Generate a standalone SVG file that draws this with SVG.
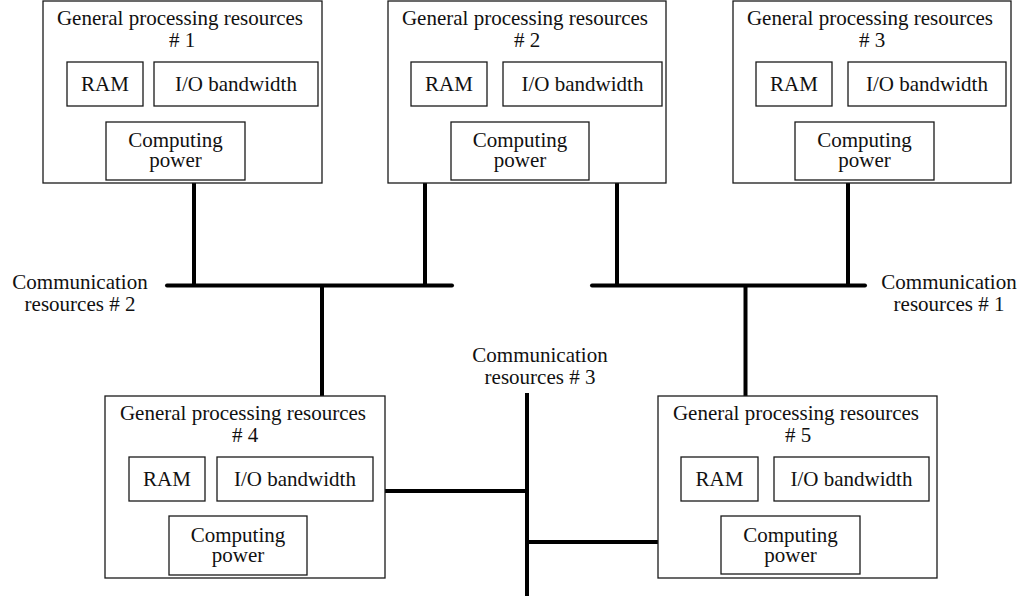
<svg xmlns="http://www.w3.org/2000/svg" width="1021" height="597" viewBox="0 0 1021 597">
  <style>
    .box { fill: #fff; stroke: #1a1a1a; stroke-width: 1.3; }
    .t { font-family: "Liberation Serif", "Times New Roman", serif; font-size: 21px; fill: #111; text-anchor: middle; }
    .bus { stroke: #000; stroke-width: 4; fill: none; stroke-linecap: round; }
    .tap { stroke: #000; stroke-width: 4; fill: none; stroke-linecap: butt; }
  </style>
  <rect width="1021" height="597" fill="#fff"/>

  <!-- connectors: buses and taps -->
  <g id="connectors">
    <!-- communication resources #2 -->
    <line class="bus" x1="167" y1="285.5" x2="452" y2="285.5"/>
    <line class="tap" x1="194" y1="183" x2="194" y2="285.5"/>
    <line class="tap" x1="425" y1="183" x2="425" y2="285.5"/>
    <line class="tap" x1="322" y1="285.5" x2="322" y2="396"/>
    <!-- communication resources #1 -->
    <line class="bus" x1="592" y1="285.5" x2="865" y2="285.5"/>
    <line class="tap" x1="617" y1="183" x2="617" y2="285.5"/>
    <line class="tap" x1="848" y1="183" x2="848" y2="285.5"/>
    <line class="tap" x1="745.5" y1="285.5" x2="745.5" y2="396"/>
    <!-- communication resources #3 -->
    <line class="tap" x1="527" y1="393" x2="527" y2="596"/>
    <line class="tap" x1="385" y1="491" x2="527" y2="491"/>
    <line class="tap" x1="527" y1="542" x2="658" y2="542"/>
  </g>

  <g id="bus-labels">
    <text class="t" x="80" y="289">Communication</text>
    <text class="t" x="80" y="311">resources # 2</text>
    <text class="t" x="949" y="289">Communication</text>
    <text class="t" x="949" y="311">resources # 1</text>
    <text class="t" x="540" y="362">Communication</text>
    <text class="t" x="540" y="384">resources # 3</text>
  </g>

  <g id="gpr1">
    <rect class="box" x="43" y="1" width="279" height="182"/>
    <text class="t" x="180" y="25">General processing resources</text>
    <text class="t" x="182" y="47"># 1</text>
    <rect class="box" x="67" y="62" width="76" height="44"/>
    <text class="t" x="105" y="91">RAM</text>
    <rect class="box" x="154" y="62" width="164" height="44"/>
    <text class="t" x="236" y="91">I/O bandwidth</text>
    <rect class="box" x="106" y="122" width="139" height="58"/>
    <text class="t" x="175.5" y="147">Computing</text>
    <text class="t" x="175.5" y="167">power</text>
  </g>

  <g id="gpr2">
    <rect class="box" x="388" y="1" width="278" height="182"/>
    <text class="t" x="525" y="25">General processing resources</text>
    <text class="t" x="527" y="47"># 2</text>
    <rect class="box" x="411" y="62" width="76" height="44"/>
    <text class="t" x="449" y="91">RAM</text>
    <rect class="box" x="503" y="62" width="159" height="44"/>
    <text class="t" x="582.5" y="91">I/O bandwidth</text>
    <rect class="box" x="451" y="122" width="138" height="58"/>
    <text class="t" x="520" y="147">Computing</text>
    <text class="t" x="520" y="167">power</text>
  </g>

  <g id="gpr3">
    <rect class="box" x="733" y="1" width="278" height="182"/>
    <text class="t" x="870" y="25">General processing resources</text>
    <text class="t" x="872" y="47"># 3</text>
    <rect class="box" x="756" y="62" width="76" height="44"/>
    <text class="t" x="794" y="91">RAM</text>
    <rect class="box" x="848" y="62" width="158" height="44"/>
    <text class="t" x="927" y="91">I/O bandwidth</text>
    <rect class="box" x="795" y="122" width="139" height="58"/>
    <text class="t" x="864.5" y="147">Computing</text>
    <text class="t" x="864.5" y="167">power</text>
  </g>

  <g id="gpr4">
    <rect class="box" x="105" y="396" width="280" height="182"/>
    <text class="t" x="243" y="420">General processing resources</text>
    <text class="t" x="245" y="442"># 4</text>
    <rect class="box" x="129" y="457" width="76" height="44"/>
    <text class="t" x="167" y="486">RAM</text>
    <rect class="box" x="217" y="457" width="156" height="44"/>
    <text class="t" x="295" y="486">I/O bandwidth</text>
    <rect class="box" x="169" y="516" width="138" height="59"/>
    <text class="t" x="238" y="542">Computing</text>
    <text class="t" x="238" y="562">power</text>
  </g>

  <g id="gpr5">
    <rect class="box" x="658" y="396" width="279" height="182"/>
    <text class="t" x="796" y="420">General processing resources</text>
    <text class="t" x="798" y="442"># 5</text>
    <rect class="box" x="681" y="457" width="77" height="44"/>
    <text class="t" x="719.5" y="486">RAM</text>
    <rect class="box" x="774" y="457" width="155" height="44"/>
    <text class="t" x="851.5" y="486">I/O bandwidth</text>
    <rect class="box" x="721" y="516" width="139" height="58"/>
    <text class="t" x="790.5" y="542">Computing</text>
    <text class="t" x="790.5" y="562">power</text>
  </g>
</svg>
